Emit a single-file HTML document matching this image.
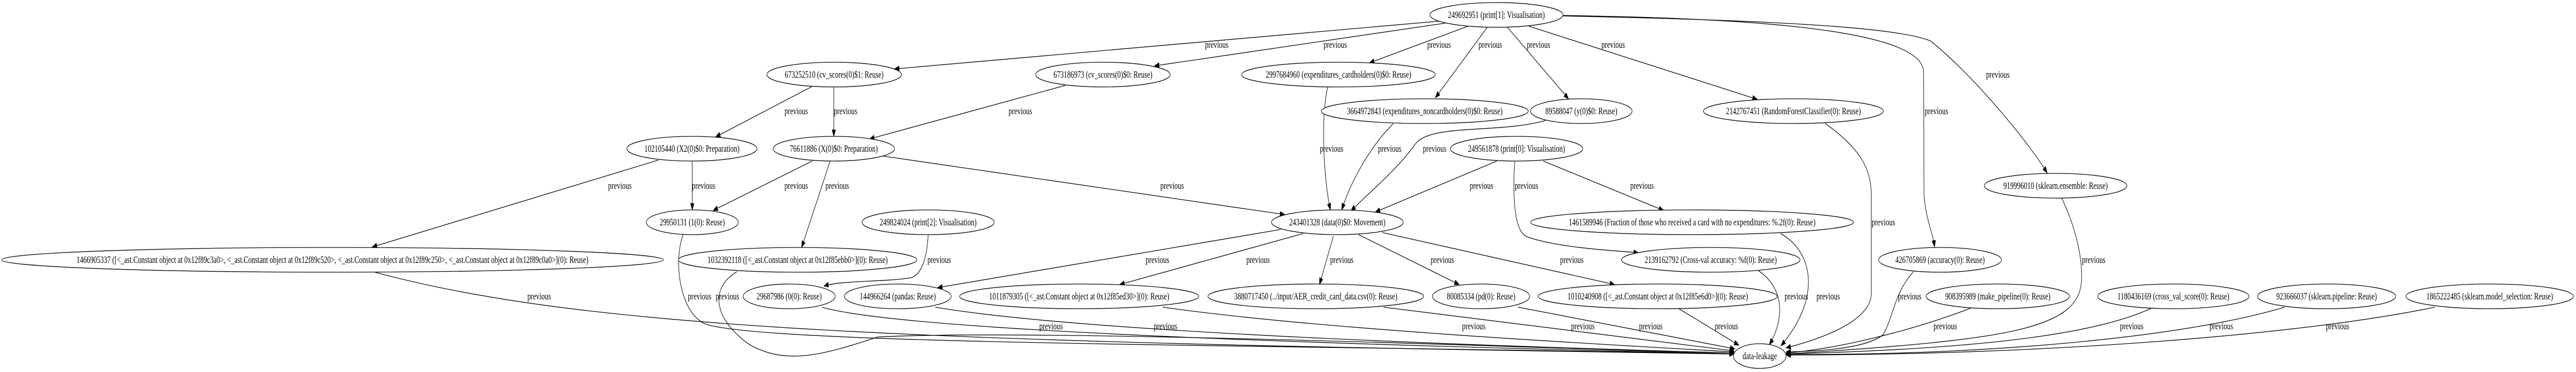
<!DOCTYPE html>
<html><head><meta charset="utf-8"><style>
html,body{margin:0;padding:0;background:#fff;overflow:hidden;}
svg{display:block;width:100vw;height:100vh;}
text{font-family:"Liberation Serif","Times New Roman",serif;font-size:18.67px;fill:#000;}
.n text{text-anchor:middle;}
ellipse{fill:#fff;stroke:#000;stroke-width:1.33;}
path{fill:none;stroke:#000;stroke-width:1.33;marker-end:url(#a);}
</style></head><body>
<svg viewBox="0 0 7044 723" preserveAspectRatio="none" xmlns="http://www.w3.org/2000/svg">
<defs><marker id="a" markerUnits="userSpaceOnUse" markerWidth="14" markerHeight="10" refX="13" refY="5" orient="auto"><path d="M0,0 L13,5 L0,10 Z" style="fill:#000;stroke:#000;stroke-width:1;marker-end:none"/></marker></defs>

<path d="M3937,41 L2446,134"/>
<path d="M3952,45 L3157,128"/>
<path d="M4014,51 L3745,122"/>
<path d="M4067,53 L3925,190"/>
<path d="M4122,53 L4289,192"/>
<path d="M4181,51 L4805,193"/>
<path d="M4273,30 C4700,35 5259,50 5260,140 L5261,370 C5262,420 5285,450 5290,480"/>
<path d="M4273,31 C4900,40 5200,55 5280,80 C5400,150 5540,270 5598,336"/>
<path d="M2221,168 L1957,266"/>
<path d="M2280,169 L2280,265"/>
<path d="M2913,166 L2378,270"/>
<path d="M1801,311 L1018,480"/>
<path d="M1893,313 L1893,408"/>
<path d="M2221,313 L1950,409"/>
<path d="M2270,313 L2192,481"/>
<path d="M2411,303 L3513,417"/>
<path d="M3631,168 C3610,230 3620,350 3638,408"/>
<path d="M3810,240 C3740,290 3690,360 3669,408"/>
<path d="M4227,234 C4100,260 3910,240 3870,280 C3820,330 3750,370 3694,410"/>
<path d="M4093,313 L3761,412"/>
<path d="M4142,314 C4136,380 4140,450 4175,460 C4250,480 4400,487 4480,491"/>
<path d="M4220,313 L4549,409"/>
<path d="M2538,457 C2535,500 2520,535 2490,540 C2420,548 2300,545 2253,556"/>
<path d="M3502,446 L2564,559"/>
<path d="M3563,454 L3062,553"/>
<path d="M3646,459 L3608,553"/>
<path d="M3715,456 L3990,553"/>
<path d="M3780,452 L4415,553"/>
<path d="M1025,529 C1600,640 2500,665 4742,688"/>
<path d="M1868,456 C1840,510 1860,610 1930,630 C2100,670 3500,670 4742,688"/>
<path d="M2015,528 C1940,560 1950,620 2050,670 C2150,710 2250,690 2400,655 C2800,640 4000,670 4742,688"/>
<path d="M2248,597 C2500,650 4000,675 4742,688"/>
<path d="M2557,597 C3000,650 4200,675 4742,686"/>
<path d="M3180,597 C3600,640 4400,670 4742,684"/>
<path d="M3783,597 L4742,682"/>
<path d="M4151,597 L4744,678"/>
<path d="M4591,600 L4755,671"/>
<path d="M4808,526 C4880,560 4880,620 4838,670"/>
<path d="M4869,454 C4960,490 4980,580 4870,672"/>
<path d="M4991,240 C5090,290 5117,330 5117,380 L5117,570 C5117,620 5000,655 4884,676"/>
<path d="M5232,528 C5180,570 5180,610 5150,650 C5100,680 4950,683 4884,684"/>
<path d="M5389,599 C5200,650 5000,680 4884,686"/>
<path d="M5638,385 C5680,450 5693,500 5692,540 C5692,640 5500,660 4884,688"/>
<path d="M5883,599 C5700,660 5300,680 4884,688"/>
<path d="M6247,597 C6000,650 5500,690 4884,689"/>
<path d="M6658,597 C6300,650 5600,690 4884,690"/>

<g>
<text x="3295" y="93">previous</text>
<text x="3619" y="93">previous</text>
<text x="3903" y="93">previous</text>
<text x="4043" y="93">previous</text>
<text x="4175" y="93">previous</text>
<text x="4379" y="93">previous</text>
<text x="5263" y="222">previous</text>
<text x="5431" y="151">previous</text>
<text x="2145" y="222">previous</text>
<text x="2280" y="222">previous</text>
<text x="2758" y="222">previous</text>
<text x="1663" y="367">previous</text>
<text x="1892" y="367">previous</text>
<text x="2145" y="367">previous</text>
<text x="2257" y="367">previous</text>
<text x="3173" y="367">previous</text>
<text x="3609" y="295">previous</text>
<text x="3768" y="295">previous</text>
<text x="3891" y="295">previous</text>
<text x="4019" y="367">previous</text>
<text x="4142" y="367">previous</text>
<text x="4458" y="367">previous</text>
<text x="2536" y="511">previous</text>
<text x="3133" y="511">previous</text>
<text x="3408" y="511">previous</text>
<text x="3637" y="511">previous</text>
<text x="3912" y="511">previous</text>
<text x="4266" y="511">previous</text>
<text x="1442" y="582">previous</text>
<text x="1881" y="582">previous</text>
<text x="1957" y="582">previous</text>
<text x="2842" y="640">previous</text>
<text x="3155" y="640">previous</text>
<text x="3998" y="640">previous</text>
<text x="4296" y="640">previous</text>
<text x="4482" y="640">previous</text>
<text x="4689" y="640">previous</text>
<text x="4880" y="582">previous</text>
<text x="4967" y="582">previous</text>
<text x="5118" y="438">previous</text>
<text x="5190" y="582">previous</text>
<text x="5287" y="640">previous</text>
<text x="5693" y="511">previous</text>
<text x="5797" y="640">previous</text>
<text x="6042" y="640">previous</text>
<text x="6360" y="640">previous</text>
</g>

<g class="n">
<ellipse cx="4092" cy="29" rx="182" ry="24"/><text x="4092" y="35">249692951 (print[1]: Visualisation)</text>
<ellipse cx="2281" cy="145" rx="184" ry="24"/><text x="2281" y="151">673252510 (cv_scores(0)$1: Reuse)</text>
<ellipse cx="3016" cy="145" rx="184" ry="24"/><text x="3016" y="151">673186973 (cv_scores(0)$0: Reuse)</text>
<ellipse cx="3660" cy="145" rx="265" ry="24"/><text x="3660" y="151">2997684960 (expenditures_cardholders(0)$0: Reuse)</text>
<ellipse cx="1892" cy="289" rx="178" ry="24"/><text x="1892" y="295">102105440 (X2(0)$0: Preparation)</text>
<ellipse cx="2280" cy="289" rx="166" ry="24"/><text x="2280" y="295">76611886 (X(0)$0: Preparation)</text>
<ellipse cx="3896" cy="216" rx="283" ry="24"/><text x="3896" y="222">3664972843 (expenditures_noncardholders(0)$0: Reuse)</text>
<ellipse cx="4324" cy="216" rx="139" ry="24"/><text x="4324" y="222">89588047 (y(0)$0: Reuse)</text>
<ellipse cx="4904" cy="216" rx="246" ry="24"/><text x="4904" y="222">2142767451 (RandomForestClassifier(0): Reuse)</text>
<ellipse cx="4147" cy="289" rx="181" ry="24"/><text x="4147" y="295">249561878 (print[0]: Visualisation)</text>
<ellipse cx="5621" cy="361" rx="195" ry="24"/><text x="5621" y="367">919996010 (sklearn.ensemble: Reuse)</text>
<ellipse cx="1893" cy="432" rx="126" ry="24"/><text x="1893" y="438">29950131 (1(0): Reuse)</text>
<ellipse cx="2538" cy="432" rx="181" ry="24"/><text x="2538" y="438">249824024 (print[2]: Visualisation)</text>
<ellipse cx="3657" cy="432" rx="180" ry="24"/><text x="3657" y="438">243401328 (data(0)$0: Movement)</text>
<ellipse cx="4627" cy="432" rx="442" ry="24"/><text x="4627" y="438">1461589946 (Fraction of those who received a card with no expenditures: %.2f(0): Reuse)</text>
<ellipse cx="909" cy="505" rx="905" ry="24"/><text x="909" y="511">1466905337 ([&lt;_ast.Constant object at 0x12f89c3a0&gt;, &lt;_ast.Constant object at 0x12f89c520&gt;, &lt;_ast.Constant object at 0x12f89c250&gt;, &lt;_ast.Constant object at 0x12f89c0a0&gt;](0): Reuse)</text>
<ellipse cx="2181" cy="505" rx="326" ry="24"/><text x="2181" y="511">1032392118 ([&lt;_ast.Constant object at 0x12f85ebb0&gt;](0): Reuse)</text>
<ellipse cx="4678" cy="505" rx="244" ry="24"/><text x="4678" y="511">2139162792 (Cross-val accuracy: %f(0): Reuse)</text>
<ellipse cx="5305" cy="505" rx="168" ry="24"/><text x="5305" y="511">426705869 (accuracy(0): Reuse)</text>
<ellipse cx="2158" cy="576" rx="126" ry="24"/><text x="2158" y="582">29687986 (0(0): Reuse)</text>
<ellipse cx="2455" cy="576" rx="146" ry="24"/><text x="2455" y="582">144966264 (pandas: Reuse)</text>
<ellipse cx="2951" cy="576" rx="327" ry="24"/><text x="2951" y="582">1011879305 ([&lt;_ast.Constant object at 0x12f85ed30&gt;](0): Reuse)</text>
<ellipse cx="3598" cy="576" rx="295" ry="24"/><text x="3598" y="582">3880717450 (../input/AER_credit_card_data.csv(0): Reuse)</text>
<ellipse cx="4050" cy="576" rx="133" ry="24"/><text x="4050" y="582">80085334 (pd(0): Reuse)</text>
<ellipse cx="4533" cy="576" rx="327" ry="24"/><text x="4533" y="582">1010240908 ([&lt;_ast.Constant object at 0x12f85e6d0&gt;](0): Reuse)</text>
<ellipse cx="5463" cy="576" rx="196" ry="24"/><text x="5463" y="582">908395989 (make_pipeline(0): Reuse)</text>
<ellipse cx="5943" cy="576" rx="207" ry="24"/><text x="5943" y="582">1180436169 (cross_val_score(0): Reuse)</text>
<ellipse cx="6362" cy="576" rx="189" ry="24"/><text x="6362" y="582">923666037 (sklearn.pipeline: Reuse)</text>
<ellipse cx="6808" cy="576" rx="229" ry="24"/><text x="6808" y="582">1865222485 (sklearn.model_selection: Reuse)</text>
<ellipse cx="4812" cy="692" rx="72" ry="24"/><text x="4812" y="698">data-leakage</text>
</g>
</svg>
</body></html>
